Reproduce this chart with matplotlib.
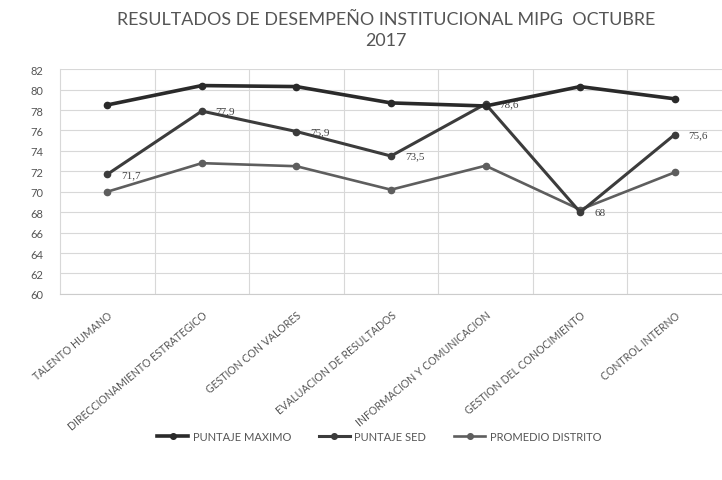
import matplotlib
matplotlib.use("Agg")
import matplotlib.pyplot as plt
from matplotlib.ticker import MultipleLocator

plt.rcParams["font.family"] = ["Lato", "DejaVu Sans"]

# ---------------------------------------------------------------------------
# data
# ---------------------------------------------------------------------------
categories = ["TALENTO HUMANO", "DIRECCIONAMIENTO ESTRATEGICO", "GESTION CON VALORES",
              "EVALUACION DE RESULTADOS", "INFORMACION Y COMUNICACION",
              "GESTION DEL CONOCIMIENTO", "CONTROL INTERNO"]
puntaje_maximo = [78.5, 80.4, 80.3, 78.7, 78.4, 80.3, 79.1]
puntaje_sed = [71.7, 77.9, 75.9, 73.5, 78.6, 68.0, 75.6]
promedio_distrito = [70.0, 72.8, 72.5, 70.2, 72.55, 68.25, 71.9]
sed_labels = ["71,7", "77,9", "75,9", "73,5", "78,6", "68", "75,6"]

fig = plt.figure(figsize=(7.22, 4.81), dpi=100)
ax = fig.add_axes([0.083, 0.387, 0.917, 0.467])

x = list(range(len(categories)))
ax.plot(x, puntaje_maximo, color="#2a2a2a", lw=2.6, marker="o", ms=4.5,
        label="PUNTAJE MAXIMO", zorder=4)
ax.plot(x, puntaje_sed, color="#3c3c3c", lw=2.2, marker="o", ms=4.5,
        label="PUNTAJE SED", zorder=3)
ax.plot(x, promedio_distrito, color="#5e5e5e", lw=1.9, marker="o", ms=4.5,
        label="PROMEDIO DISTRITO", zorder=2)

for xi, yi, txt in zip(x, puntaje_sed, sed_labels):
    ax.annotate(txt, (xi, yi), xytext=(10, 0), textcoords="offset points",
                ha="left", va="center", fontsize=8, color="#444444",
                family=["Liberation Serif", "DejaVu Serif"])

ax.set_xlim(-0.5, len(categories) - 0.5)
ax.set_ylim(60, 82)
ax.yaxis.set_major_locator(MultipleLocator(2))
ax.set_xticks(x)
ax.set_xticks([i + 0.5 for i in x[:-1]], minor=True)
ax.set_xticklabels(categories, rotation=40, ha="right", rotation_mode="anchor",
                   fontsize=7.6, color="#555555")
ax.tick_params(axis="y", labelsize=8, labelcolor="#555555", length=0, pad=12)
ax.tick_params(axis="x", which="both", length=0, pad=11)

ax.grid(axis="y", color="#d8d8d8", lw=0.8)
ax.grid(axis="x", which="minor", color="#d8d8d8", lw=0.8)
for side in ["top", "right"]:
    ax.spines[side].set_visible(False)
ax.spines["left"].set_color("#d8d8d8")
ax.spines["bottom"].set_color("#cccccc")

fig.suptitle("RESULTADOS DE DESEMPEÑO INSTITUCIONAL MIPG  OCTUBRE\n2017",
             x=0.535, y=0.975, fontsize=12.9, color="#555555", linespacing=1.4)

leg = fig.legend(loc="center", bbox_to_anchor=(0.525, 0.09), ncol=3, frameon=False,
                 fontsize=8, handlelength=2.8, columnspacing=2.5, handletextpad=0.4,
                 markerscale=0.9)
for t in leg.get_texts():
    t.set_color("#555555")

fig.savefig("out.png", dpi=100, facecolor="white")
